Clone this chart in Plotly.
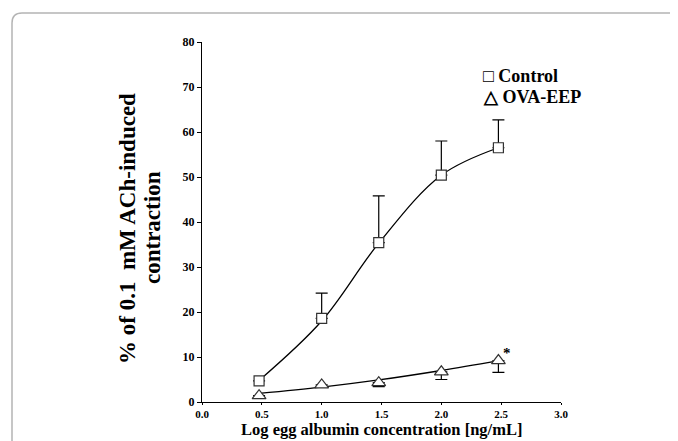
import plotly.graph_objects as go

# Data (log concentration, % of ACh-induced contraction)
log_conc = [0.477, 1.0, 1.477, 2.0, 2.477]
control_mean = [4.7, 18.6, 35.4, 50.4, 56.5]
control_err_up = [0.0, 5.6, 10.4, 7.6, 6.2]
ova_mean = [1.4, 3.8, 4.3, 6.7, 9.2]
ova_err_down = [0.0, 0.0, 0.9, 1.7, 2.6]
# fitted curve values read at the same concentrations
control_fit = [4.8, 18.0, 35.3, 50.4, 56.5]
ova_fit = [1.9, 3.3, 4.9, 7.0, 9.2]

x_ticks = [0.0, 0.5, 1.0, 1.5, 2.0, 2.5, 3.0]
x_tick_labels = ["0.0", "0.5", "1.0", "1.5", "2.0", "2.5", "3.0"]
y_ticks = [0, 10, 20, 30, 40, 50, 60, 70, 80]

FONT = "Liberation Serif"

fig = go.Figure()

fig.add_trace(go.Scatter(x=log_conc, y=control_fit, mode="lines", line=dict(color="black", width=1.3, shape="spline"),
                         showlegend=False, hoverinfo="skip"))
fig.add_trace(go.Scatter(x=log_conc, y=ova_fit, mode="lines", line=dict(color="black", width=1.3, shape="spline"),
                         showlegend=False, hoverinfo="skip"))

fig.add_trace(go.Scatter(
    x=log_conc, y=control_mean, mode="markers", name="Control",
    marker=dict(symbol="square", size=10, color="white", line=dict(color="#333333", width=1.2)),
    error_y=dict(type="data", symmetric=False, array=control_err_up, arrayminus=[0]*5,
                 color="black", thickness=1.2, width=6),
    showlegend=False))
fig.add_trace(go.Scatter(
    x=log_conc, y=ova_mean, mode="markers", name="OVA-EEP",
    marker=dict(symbol="triangle-up", size=12, color="white", line=dict(color="#333333", width=1.2)),
    error_y=dict(type="data", symmetric=False, array=[0]*5, arrayminus=ova_err_down,
                 color="black", thickness=1.2, width=6),
    showlegend=False))

# Page has an 8px body margin: figure sits at screen (8, 8)
OFF = 8
W, H = 678 - OFF, 441 - OFF
# screen-pixel plot box
X0, X1, Y0, Y1 = 202, 561, 42, 402
l_m, r_m, t_m, b_m = X0 - OFF, W - (X1 - OFF), Y0 - OFF, H - (Y1 - OFF)
pw, ph = X1 - X0, Y1 - Y0


def px(xs):
    return (xs - X0) / pw


def py(ys):
    return (Y1 - ys) / ph


# Frame (rounded rectangle, partly off-canvas)
L, T, r = 12, 13, 10
path = (f"M {px(L)},{py(480)} L {px(L)},{py(T + r)} "
        f"Q {px(L)},{py(T)} {px(L + r)},{py(T)} L {px(720)},{py(T)}")

fig.update_layout(
    width=W, height=H,
    margin=dict(l=l_m, r=r_m, t=t_m, b=b_m, autoexpand=False),
    paper_bgcolor="white", plot_bgcolor="white",
    font=dict(family=FONT, color="black"),
    shapes=[dict(type="path", xref="paper", yref="paper", path=path,
                 line=dict(color="#b4b4b4", width=1.5), layer="below")],
    xaxis=dict(range=[0, 3.0], tickvals=x_ticks, ticktext=x_tick_labels, automargin=False,
               showgrid=False, zeroline=False, showline=True, linecolor="black", linewidth=1.3,
               ticks="outside", ticklen=2, tickcolor="black", tickwidth=1.2,
               tickfont=dict(family=FONT, size=11, color="black", weight="bold")),
    yaxis=dict(range=[0, 80], tickvals=y_ticks, automargin=False,
               showgrid=False, zeroline=False, showline=True, linecolor="black", linewidth=1.3,
               ticks="outside", ticklen=4, tickcolor="black", tickwidth=1.2,
               tickfont=dict(family=FONT, size=12, color="black", weight="bold")),
    annotations=[
        dict(text="Log egg albumin concentration [ng/mL]", xref="paper", yref="paper",
             x=px(381), y=py(441), xanchor="center", yanchor="bottom", showarrow=False,
             font=dict(family=FONT, size=16.5, color="black", weight="bold")),
        dict(text="% of 0.1  mM ACh-induced", xref="paper", yref="paper",
             x=px(128), y=py(229), textangle=-90, showarrow=False, xanchor="center", yanchor="middle",
             font=dict(family=FONT, size=23, color="black", weight="bold")),
        dict(text="contraction", xref="paper", yref="paper",
             x=px(153), y=py(228), textangle=-90, showarrow=False, xanchor="center", yanchor="middle",
             font=dict(family=FONT, size=23, color="black", weight="bold")),
        dict(text="\u25a1 Control", xref="paper", yref="paper", x=px(481), y=py(76),
             xanchor="left", yanchor="middle", showarrow=False,
             font=dict(family=FONT, size=18, color="black", weight="bold")),
        dict(text="\u25b3 OVA-EEP", xref="paper", yref="paper", x=px(481), y=py(97),
             xanchor="left", yanchor="middle", showarrow=False,
             font=dict(family=FONT, size=18, color="black", weight="bold")),
        dict(text="*", x=2.55, y=10.9, xref="x", yref="y", showarrow=False,
             font=dict(family=FONT, size=15, color="black", weight="bold")),
    ],
)

fig.write_html("out.html")
